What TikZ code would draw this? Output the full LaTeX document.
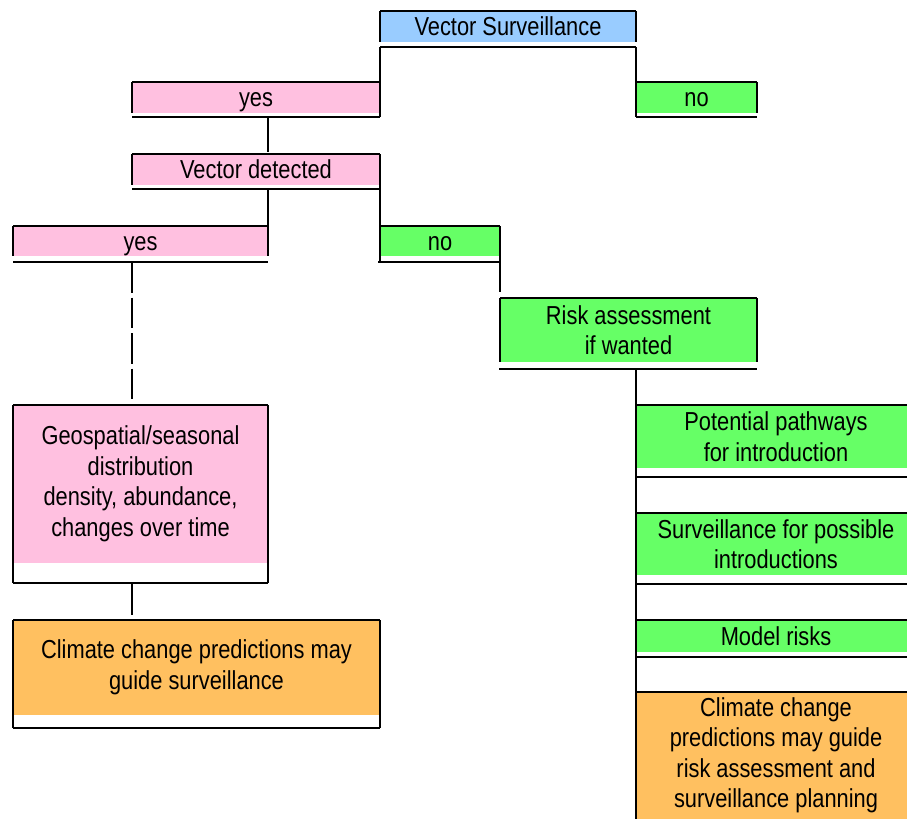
\documentclass[tikz,border=0pt]{standalone}
\usepackage{fontspec}
\setmainfont[FakeStretch=0.84]{Liberation Sans}
\definecolor{cblue}{RGB}{153,204,255}
\definecolor{cpink}{RGB}{255,192,224}
\definecolor{cgreen}{RGB}{102,255,102}
\definecolor{corange}{RGB}{255,192,96}
\begin{document}
\begin{tikzpicture}[x=1pt,y=-1pt,
  cell/.style={anchor=north west, inner sep=0pt, outer sep=0pt, align=center,
    font=\fontsize{26}{30.5}\selectfont, text=black},
  oneline/.style={text height=18.6pt, text depth=0pt},
  rule/.style={line width=2.6pt, draw=black},
  gapline/.style={rule, dash pattern=on 30.5pt off 5pt}]
\useasboundingbox (0,0) rectangle (907,819);
\clip (0,0) rectangle (907,819);
% cells
\node[cell, oneline, fill=cblue, minimum width=256pt, minimum height=31pt] (vs) at (380,11) {Vector Surveillance};
\node[cell, oneline, fill=cpink, minimum width=248pt, minimum height=31pt] (yesA) at (132,82) {yes};
\node[cell, oneline, fill=cgreen, minimum width=121pt, minimum height=31pt] (noA) at (636,82) {no};
\node[cell, oneline, fill=cpink, minimum width=248pt, minimum height=31pt] (vd) at (132,154) {Vector detected};
\node[cell, oneline, fill=cpink, minimum width=255pt, minimum height=30pt] (yesB) at (13,226) {yes};
\node[cell, oneline, fill=cgreen, minimum width=120pt, minimum height=30pt] (noB) at (380,226) {no};
\node[cell, fill=cgreen, minimum width=257pt, minimum height=64pt] (risk) at (500,298) {Risk assessment\\if wanted};
\node[cell, fill=cpink, minimum width=255pt, minimum height=158pt] (geo) at (13,405) {Geospatial/seasonal\\distribution\\density, abundance,\\changes over time};
\node[cell, fill=corange, minimum width=367pt, minimum height=95pt] (climL) at (13,620) {Climate change predictions may\\guide surveillance};
\node[cell, fill=cgreen, minimum width=280pt, minimum height=63pt] (path) at (636,405) {Potential pathways\\for introduction};
\node[cell, fill=cgreen, minimum width=280pt, minimum height=62pt] (surv) at (636,513) {Surveillance for possible\\introductions};
\node[cell, oneline, fill=cgreen, minimum width=280pt, minimum height=32pt] (model) at (636,620) {Model risks};
\node[cell, fill=corange, minimum width=280pt, minimum height=127pt] (climR) at (636,692) {Climate change\\predictions may guide\\risk assessment and\\surveillance planning};
% Vector Surveillance frame
\draw[rule] (vs.north west) -- (vs.north east);
\draw[rule] (vs.north west) -- (vs.south west);
\draw[rule] (vs.north east) -- (vs.south east);
\draw[rule] (380,47) -- (636,47);
\draw[rule] (380,47) -- (380,117);
\draw[rule] (636,47) -- (636,117);
% yes (top)
\draw[rule] (yesA.north west) -- (yesA.north east);
\draw[rule] (yesA.north west) -- (yesA.south west);
\draw[rule] (132,117) -- (380,117);
% no (top)
\draw[rule] (noA.north west) -- (noA.north east);
\draw[rule] (noA.north east) -- (noA.south east);
\draw[rule] (636,117) -- (757,117);
% yes -> Vector detected
\draw[rule] (268,117) -- (268,152);
% Vector detected
\draw[rule] (vd.north west) -- (vd.north east);
\draw[rule] (vd.north west) -- (vd.south west);
\draw[rule] (vd.north east) -- (380,262);
\draw[rule] (132,189) -- (380,189);
\draw[rule] (268,189) -- (yesB.south east);
% yes (second)
\draw[rule] (yesB.north west) -- (yesB.north east);
\draw[rule] (yesB.north west) -- (yesB.south west);
\draw[rule] (13,262) -- (268,262);
% no (second)
\draw[rule] (noB.north west) -- (noB.north east);
\draw[rule] (noB.north east) -- (500,292);
\draw[rule] (378,262) -- (500,262);
% Risk assessment
\draw[rule] (risk.north west) -- (risk.north east);
\draw[rule] (risk.north west) -- (risk.south west);
\draw[rule] (risk.north east) -- (risk.south east);
\draw[rule] (499,369) -- (757,369);
% right column
\draw[rule] (636,369) -- (636,819);
\draw[rule] (path.north west) -- (907,405);
\draw[rule] (636,477) -- (907,477);
\draw[rule] (surv.north west) -- (907,513);
\draw[rule] (636,584) -- (907,584);
\draw[rule] (model.north west) -- (907,620);
\draw[rule] (636,657) -- (907,657);
\draw[rule] (climR.north west) -- (907,692);
% left column
\draw[gapline] (132,262) -- (132,400);
\draw[rule] (geo.north west) -- (geo.north east);
\draw[rule] (geo.north west) -- (13,583);
\draw[rule] (geo.north east) -- (268,583);
\draw[rule] (13,583) -- (268,583);
\draw[rule] (132,583) -- (132,615);
\draw[rule] (climL.north west) -- (climL.north east);
\draw[rule] (climL.north west) -- (13,728);
\draw[rule] (climL.north east) -- (380,728);
\draw[rule] (13,728) -- (380,728);
\end{tikzpicture}
\end{document}
